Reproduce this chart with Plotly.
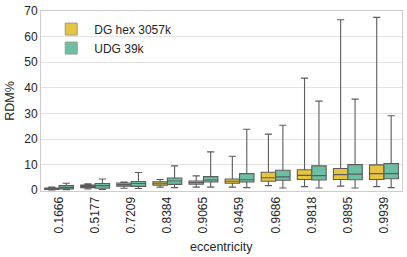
import plotly.graph_objects as go

categories = ["0.1666", "0.5177", "0.7209", "0.8384", "0.9065",
              "0.9459", "0.9686", "0.9818", "0.9895", "0.9939"]

dg_low = [0.1, 0.5, 0.8, 1.2, 1.2, 1.2, 1.8, 1.4, 1.6, 1.4]
dg_q1 = [0.3, 1.0, 1.6, 2.0, 2.4, 2.7, 3.5, 4.2, 4.2, 4.2]
dg_med = [0.6, 1.5, 2.2, 2.7, 3.0, 3.5, 4.9, 5.8, 6.1, 6.5]
dg_q3 = [0.9, 2.0, 2.8, 3.3, 3.6, 4.4, 7.0, 8.0, 8.5, 9.9]
dg_high = [1.2, 2.5, 3.2, 4.2, 5.6, 13.3, 21.9, 43.8, 66.6, 67.5]

udg_low = [0.2, 0.3, 0.7, 1.0, 1.2, 1.0, 0.9, 0.9, 0.9, 1.0]
udg_q1 = [0.5, 0.8, 1.5, 2.3, 3.2, 3.2, 3.9, 4.0, 4.1, 4.5]
udg_med = [1.0, 1.8, 2.6, 3.6, 4.0, 4.1, 5.2, 5.7, 6.3, 6.5]
udg_q3 = [1.8, 2.6, 3.4, 4.8, 5.3, 6.5, 7.8, 9.5, 10.0, 10.4]
udg_high = [2.7, 4.4, 6.9, 9.5, 15.0, 23.8, 25.4, 34.8, 35.6, 29.1]

series_names = ["DG hex 3057k", "UDG 39k"]
fills = ["#e5c440", "#6cbfa3"]

fig = go.Figure()
for name, fill, lo, q1, med, q3, hi in [
    (series_names[0], fills[0], dg_low, dg_q1, dg_med, dg_q3, dg_high),
    (series_names[1], fills[1], udg_low, udg_q1, udg_med, udg_q3, udg_high),
]:
    fig.add_trace(go.Box(
        name=name, x=categories, q1=q1, median=med, q3=q3,
        lowerfence=lo, upperfence=hi,
        fillcolor=fill, line=dict(color="#5c5c5c", width=1.1),
        whiskerwidth=0.5, boxpoints=False, showlegend=False,
    ))

# legend swatches
for name, fill in zip(series_names, fills):
    fig.add_trace(go.Bar(
        name=name, x=[None], y=[None],
        marker=dict(color=fill, line=dict(color="#9a9a9a", width=1)),
        showlegend=True,
    ))

fig.update_layout(
    width=407, height=257,
    margin=dict(l=41, r=5, t=11, b=66),
    paper_bgcolor="white", plot_bgcolor="white",
    boxmode="group", boxgap=0.2, boxgroupgap=0,
    font=dict(family="Liberation Sans, Arial, sans-serif", size=12, color="#262626"),
    showlegend=True,
    legend=dict(x=0.02, y=0.98, xanchor="left", yanchor="top",
                bgcolor="rgba(255,255,255,0)", font=dict(size=12),
                tracegroupgap=2, itemwidth=36),
    xaxis=dict(tickangle=-90, range=[-0.5, 9.5], automargin=False,
               showgrid=False, showline=True, linecolor="#cccccc", mirror=True,
               ticks="", tickfont=dict(size=12)),
    yaxis=dict(title=dict(text="RDM%", standoff=6, font=dict(size=12.5)),
               range=[-0.3, 70],
               tickvals=[0, 10, 20, 30, 40, 50, 60, 70],
               showgrid=True, gridcolor="#e3e3e3", gridwidth=1,
               showline=True, linecolor="#cccccc", mirror=True,
               zeroline=False, ticks="", tickfont=dict(size=12)),
    annotations=[dict(text="eccentricity", xref="paper", yref="paper",
                      x=0.5, y=-0.31, xanchor="center", yanchor="middle",
                      showarrow=False, font=dict(size=12.5))],
)

fig.write_html("out.html", config={"displayModeBar": False},
               post_script="document.body.style.margin='0';")
